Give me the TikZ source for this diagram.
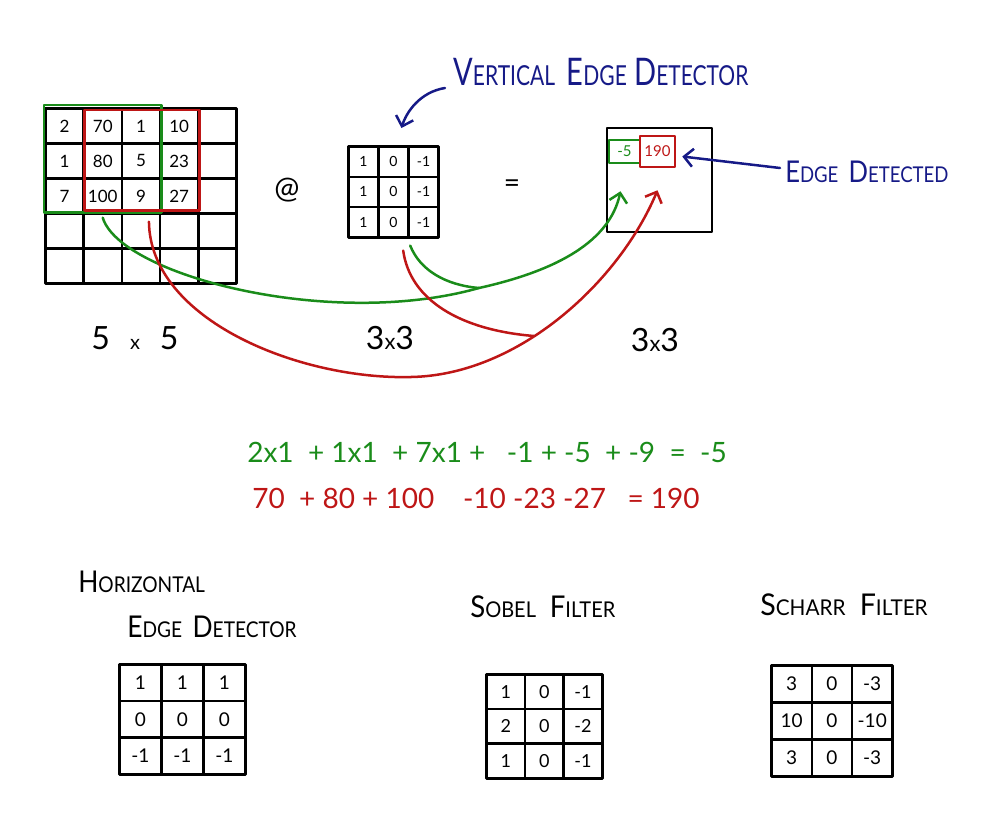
\documentclass[tikz,border=0pt]{standalone}
\usepackage{fontspec}
\setmainfont{Lato}
\usepackage{tikz}
\usetikzlibrary{matrix,fit,positioning,calc,arrows.meta}
\definecolor{penGreen}{RGB}{26,140,26}
\definecolor{penRed}{RGB}{190,22,22}
\definecolor{penBlue}{RGB}{22,26,135}
\newcommand{\hand}[2]{{\fontsize{20}{20}\selectfont #1}{\fontsize{14.5}{14.5}\selectfont #2}}
\newcommand{\fsz}[1]{\fontsize{#1}{#1}\selectfont}

\begin{document}
\begin{tikzpicture}[x=1pt, y=-1pt,
			pen/.style={line width=2.5pt, line cap=round, line join=round},
			cell/.style={draw, pen, inner sep=0, anchor=center},
			grid/.style={matrix of nodes, inner sep=0, anchor=north west, nodes in empty cells,
				column sep=-2.5pt, row sep=-2.5pt},
			plain/.style={inner sep=0},
			barb/.style={pen, -{Straight Barb[length=9pt, width=18pt]}},
			gline/.style={pen, draw=penGreen},
			rline/.style={pen, draw=penRed},
			bline/.style={pen, draw=penBlue}]
			
			\useasboundingbox (0,0) rectangle (1000,816);
			
			% input image
			\matrix (in) [grid, nodes={cell, minimum width=38.2, minimum height=35, font=\fsz{17}}] at (44,107) {
				2 & 70 & 1 & 10 & \\
				1 & 80 & 5 & 23 & \\
				7 & 100 & 9 & 27 & \\
				  &    &   &    & \\
				  &    &   &    & \\
			};
			\draw[gline] ($(in-1-1.north west)+(0,-2)$) rectangle ($(in-3-3.south east)+(0,-2)$);
			\draw[rline] ($(in-1-2.north west)+(2,3)$) rectangle ($(in-3-4.south east)+(0,-4)$);
			
			\node[plain, font=\fsz{30}] (at) at (287,190) {@};
			
			% vertical kernel
			\matrix (k) [grid, nodes={cell, minimum width=30, minimum height=30.3, font=\fsz{14}}] at (347,145) {
				1 & 0 & -1 \\
				1 & 0 & -1 \\
				1 & 0 & -1 \\
			};
			
			\node[plain, font=\fsz{28}] (eq) at (512,186) {=};
			
			% output
			\node[cell, minimum width=105, minimum height=104] (out) at (659.5,180) {};
			\node[cell, draw=penGreen, text=penGreen, minimum width=31, minimum height=23, font=\fsz{15}] (o5) at (624.5,151.5) {-5};
			\node[cell, draw=penRed, text=penRed, minimum width=35, minimum height=31, font=\fsz{15}] (o190) at (657.5,151.5) {190};
			
			% sizes
			\node[plain, font=\fsz{32}] (s5) at (135,338) {5\hspace{20pt}{\fsz{20}x}\hspace{20pt}5};
			\node[plain, font=\fsz{32}] (s3a) at (390,338) {3{\fsz{22}x}3};
			\node[plain, font=\fsz{32}] (s3b) at (655,340) {3{\fsz{22}x}3};
			
			% labels
			\node[plain, anchor=west, text=penBlue, xscale=1.45, yscale=1.9] (vlbl) at (453,72) {\hand{V}{ERTICAL}\hspace{8pt}\hand{E}{DGE}\hspace{5pt}\hand{D}{ETECTOR}};
			\node[plain, anchor=west, text=penBlue, xscale=1.28, yscale=1.5] (elbl) at (785,172) {\hand{E}{DGE}\hspace{8pt}\hand{D}{ETECTED}};
			\draw[bline, barb] ($(vlbl.west)+(-8,16)$) .. controls +(-25,4) and +(5,-16) .. ($(k.north)+(8,-17)$);
			\draw[bline, barb] ($(elbl.west)+(-5,-4)$) -- ($(o190.east)+(6,5)$);
			
			% green path
			\coordinate (gjoin) at (479,288);
			\draw[gline] ($(in-3-2.south)+(0,3)$) .. controls (120,275) and (330,330) .. (gjoin);
			\draw[gline, barb] (gjoin) .. controls (560,270) and (610,240) .. ($(o5.south)+(-4,27)$);
			\draw[gline] ($(k-3-3.south west)+(3,7)$) .. controls (420,270) and (445,285) .. (gjoin);
			
			% red path
			\coordinate (rbot) at (411,377);
			\coordinate (rjoin) at (534,336);
			\draw[rline] ($(in-3-3.south)+(8,7)$) .. controls (150,320) and (300,380) .. (rbot);
			\draw[rline, barb] (rbot) .. controls (520,375) and (620,280) .. ($(o190.south)+(0,22)$);
			\draw[rline] ($(k-3-3.south west)+(-4,12)$) .. controls (410,300) and (460,330) .. (rjoin);
			
			% sums
			\node[plain, text=penGreen, font=\fsz{28}] (gsum) at (487,452) {2x1\ \ +\ 1x1\ \ +\ 7x1\ +\ \ \ -1\ +\ -5\ \ +\ -9\ \ =\ \ -5};
			\node[plain, text=penRed, font=\fsz{28}] (rsum) at (476,498) {70\ \ +\ 80\ +\ 100\ \ \ \ -10\ -23\ -27\ \ \ =\ 190};
			
			% other filters
			\node[plain, anchor=west, xscale=1.32, yscale=1.5] (hlbl1) at (78,582) {\hand{H}{ORIZONTAL}};
			\node[plain, anchor=west, xscale=1.32, yscale=1.5] (hlbl2) at (127,627) {\hand{E}{DGE}\hspace{8pt}\hand{D}{ETECTOR}};
			\matrix (hk) [grid, nodes={cell, minimum width=42, minimum height=36.6, font=\fsz{19}}] at (118,663) {
				1 & 1 & 1 \\
				0 & 0 & 0 \\
				-1 & -1 & -1 \\
			};
			
			\node[plain, anchor=west, xscale=1.38, yscale=1.5] (slbl) at (470,607) {\hand{S}{OBEL}\hspace{10pt}\hand{F}{ILTER}};
			\matrix (sk) [grid, nodes={cell, minimum width=38.6, minimum height=34.6, font=\fsz{18}}] at (485,673) {
				1 & 0 & -1 \\
				2 & 0 & -2 \\
				1 & 0 & -1 \\
			};
			
			\node[plain, anchor=west, xscale=1.43, yscale=1.5] (clbl) at (760,605) {\hand{S}{CHARR}\hspace{10pt}\hand{F}{ILTER}};
			\matrix (ck) [grid, nodes={cell, minimum width=40.3, minimum height=37, font=\fsz{19}}] at (770,664) {
				3 & 0 & -3 \\
				10 & 0 & -10 \\
				3 & 0 & -3 \\
			};
		\end{tikzpicture}
\end{document}
